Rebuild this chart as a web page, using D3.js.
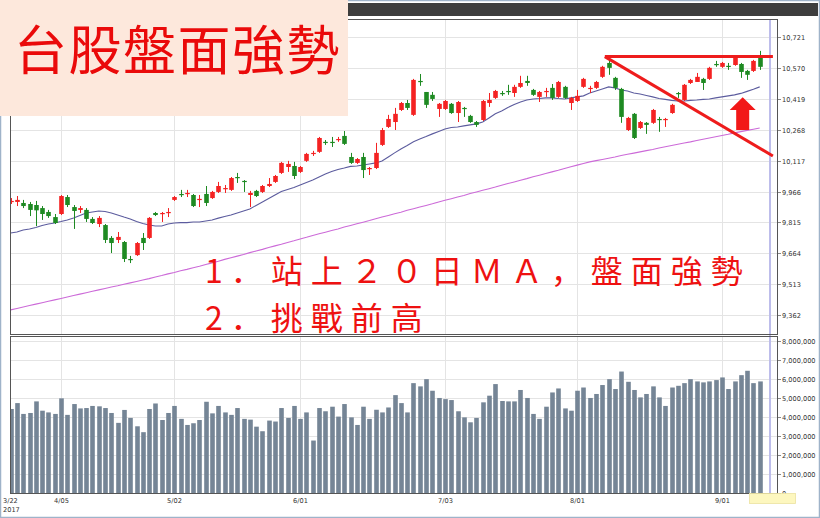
<!DOCTYPE html>
<html><head><meta charset="utf-8">
<script src="https://cdn.jsdelivr.net/npm/d3@7"></script>
<style>body{margin:0;background:#fff;}svg{display:block;}</style>
</head><body><svg id="c" width="820" height="518"></svg>
<script>
// ---------- data ----------
const tickLabels = ["3/22","4/05","5/02","6/01","7/03","8/01","9/01"];
const tickIndex  = [0, 8, 26, 46, 69, 90, 113];
const yearLabel = "2017";
const priceTicks = [9362,9513,9664,9815,9966,10117,10268,10419,10570,10721];
const volumeTicks = [0,1000000,2000000,3000000,4000000,5000000,6000000,7000000,8000000];

const open = [9915,9915,9910,9905,9900,9885,9866,9841,9856,9939,
9890,9876,9876,9832,9807,9802,9739,9729,9719,9636,
9655,9739,9739,9861,9856,9861,9925,9954,9954,9949,
9925,9954,9934,9964,9978,9974,10037,10018,9949,9969,
9964,9993,10013,10057,10086,10091,10062,10116,10150,10160,
10209,10209,10218,10238,10135,10106,10135,10076,10081,10194,
10282,10306,10365,10399,10341,10507,10453,10439,10370,10370,
10395,10350,10375,10336,10306,10316,10399,10424,10448,10458,
10448,10478,10507,10463,10429,10453,10473,10429,10478,10399,
10409,10478,10468,10473,10527,10595,10522,10468,10267,10346,
10277,10302,10302,10321,10316,10350,10448,10414,10497,10502,
10517,10517,10590,10576,10581,10585,10590,10556,10556,10620];
const high = [9934,9944,9925,9915,9920,9895,9876,9856,9949,9949,
9900,9895,9885,9841,9846,9807,9748,9768,9724,9651,
9719,9763,9841,9866,9866,9885,9944,9974,9974,9954,
9949,9993,9969,10013,9998,10037,10057,10022,9969,9974,
9998,10032,10047,10111,10116,10111,10091,10155,10165,10233,
10218,10233,10233,10262,10155,10130,10155,10086,10204,10277,
10341,10375,10404,10414,10517,10541,10453,10453,10399,10414,
10399,10409,10380,10341,10311,10414,10448,10463,10458,10488,
10488,10532,10532,10468,10458,10473,10492,10507,10483,10429,
10463,10522,10483,10507,10581,10610,10527,10473,10331,10350,
10311,10306,10370,10331,10326,10395,10453,10492,10517,10546,
10522,10576,10605,10600,10595,10630,10595,10561,10610,10654];
const low = [9905,9895,9885,9846,9797,9827,9837,9807,9851,9890,
9783,9861,9817,9807,9792,9714,9665,9714,9621,9616,
9651,9680,9734,9846,9817,9841,9920,9939,9939,9890,
9890,9895,9930,9959,9959,9969,10008,9964,9890,9939,
9959,9988,10008,10052,10062,10027,10057,10111,10140,10155,
10194,10184,10209,10194,10101,10101,10032,10047,10076,10189,
10277,10267,10360,10365,10336,10483,10375,10409,10331,10365,
10346,10306,10331,10302,10282,10311,10380,10419,10434,10439,
10429,10473,10483,10434,10404,10429,10414,10424,10419,10365,
10404,10473,10448,10468,10522,10537,10463,10302,10262,10223,
10272,10248,10297,10258,10282,10346,10424,10409,10492,10502,
10463,10512,10576,10571,10561,10581,10522,10512,10551,10561];
const close = [9920,9925,9895,9876,9874,9856,9846,9812,9944,9900,
9871,9885,9832,9812,9837,9729,9714,9744,9636,9631,
9714,9714,9837,9851,9861,9866,9939,9949,9959,9895,
9930,9910,9964,9993,9983,10032,10032,10013,9959,9944,
9993,10003,10042,10106,10101,10042,10086,10150,10155,10228,
10204,10204,10223,10199,10106,10125,10071,10081,10155,10267,
10321,10346,10399,10375,10512,10502,10390,10419,10395,10409,
10350,10404,10370,10306,10292,10409,10414,10458,10443,10453,
10478,10497,10497,10439,10453,10458,10424,10502,10424,10424,
10434,10517,10473,10502,10576,10571,10473,10331,10326,10228,
10306,10292,10365,10316,10321,10390,10443,10488,10512,10527,
10497,10571,10585,10595,10576,10625,10551,10537,10605,10576];
const volume = [4420000,4730000,4160000,4210000,4820000,4330000,4240000,4160000,4980000,4110000,
4680000,4450000,4470000,4580000,4560000,4470000,4210000,3690000,4370000,3950000,
3510000,3200000,4420000,4710000,3840000,4210000,4580000,3900000,3580000,3670000,
3840000,4800000,4190000,4580000,4240000,4110000,4470000,3900000,3860000,3490000,
3250000,3810000,3760000,4470000,3950000,4580000,3900000,4240000,2760000,4470000,
4300000,4540000,4020000,4680000,3980000,3580000,4540000,3900000,4380000,4240000,
4500000,5150000,4730000,4240000,5780000,5610000,5990000,5380000,5000000,4940000,
4890000,4300000,3980000,3720000,3950000,4770000,5120000,5730000,4840000,4820000,
4820000,5420000,5000000,4160000,3900000,4540000,5290000,5500000,4450000,4330000,
5380000,5550000,5000000,5210000,5680000,5990000,5470000,6390000,5850000,5420000,
5030000,5210000,5610000,5030000,4580000,5550000,5640000,5780000,5990000,5870000,
5820000,5870000,5940000,6080000,5470000,5870000,6200000,6430000,5780000,5870000];
const ma20 = [9763,9768,9778,9783,9790,9800,9807,9812,9819,9827,
9836,9849,9861,9866,9871,9868,9861,9851,9841,9832,
9819,9810,9802,9797,9797,9807,9812,9814,9814,9817,
9817,9822,9827,9836,9844,9851,9861,9871,9881,9898,
9915,9932,9949,9966,9976,9986,9998,10010,10022,10037,
10052,10064,10074,10081,10089,10091,10096,10101,10106,10115,
10135,10155,10174,10191,10209,10223,10235,10248,10260,10272,
10279,10282,10287,10292,10297,10306,10326,10346,10360,10377,
10392,10404,10414,10419,10421,10424,10424,10421,10419,10424,
10429,10434,10448,10458,10468,10478,10473,10463,10458,10448,
10443,10436,10429,10421,10417,10412,10409,10409,10412,10414,
10417,10419,10424,10429,10434,10439,10446,10456,10466,10478];
const ma60 = [9387,9394,9401,9408,9415,9422,9429,9436,9443,9450,
9457,9464,9471,9478,9485,9492,9499,9505,9512,9519,
9526,9533,9540,9548,9555,9563,9570,9578,9585,9593,
9600,9609,9617,9625,9634,9642,9650,9658,9667,9675,
9683,9692,9700,9708,9717,9725,9734,9742,9751,9759,
9767,9775,9783,9792,9800,9808,9816,9824,9833,9841,
9849,9857,9865,9874,9882,9890,9898,9906,9915,9923,
9931,9939,9947,9956,9964,9972,9980,9988,9997,10005,
10013,10021,10029,10038,10046,10054,10062,10070,10079,10087,
10095,10103,10111,10117,10123,10129,10135,10142,10148,10154,
10160,10166,10172,10179,10185,10191,10197,10203,10209,10216,
10222,10228,10234,10240,10246,10253,10259,10265,10271,10277];

const titleText = "台股盤面強勢";
const noteLines = ["1．站上２０日ＭＡ，盤面強勢", "2．挑戰前高"];
// annotation anchors (bar index, price)
const resistance = {from: 94.4, to: 121.1, price: 10626};
const trendLine = {from: [94.4, 10626], to: [121.1, 10140]};
const upArrow = {at: 116.3, tip: 10427, head: 10365, tail: 10267};

// ---------- layout ----------
const svg = d3.select("#c");
const L = 10, R = 777, PT = 19, PB = 334, VT = 336, VB = 493;
const x = d3.scaleLinear().domain([-0.1, 121.75]).range([L, R]);
const y = d3.scaleLinear().domain([9269, 10810]).range([PB, PT]);
const yv = d3.scaleLinear().domain([0, 8260000]).range([VB, VT]);
const font = "DejaVu Sans, Verdana, sans-serif";
const UP = "#f42222", DOWN = "#1e8a22";

svg.append("rect").attr("x",0.5).attr("y",0.5).attr("width",819).attr("height",517)
  .attr("fill","#fff").attr("stroke","#9fb3c9").attr("stroke-width",1.5);
svg.append("rect").attr("x",3).attr("y",3).attr("width",815).attr("height",13).attr("fill","#3d3d3d");

const defs = svg.append("defs");
defs.append("clipPath").attr("id","pc").append("rect").attr("x",L).attr("y",PT).attr("width",R-L).attr("height",PB-PT);
defs.append("clipPath").attr("id","vc").append("rect").attr("x",L).attr("y",VT).attr("width",R-L).attr("height",VB-VT);

[[PT,PB],[VT,VB]].forEach(([t,b]) => {
  svg.append("rect").attr("x",L).attr("y",t).attr("width",R-L).attr("height",b-t).attr("fill","#fff");
});
const grid = svg.append("g").attr("stroke","#e4e4e4").attr("stroke-width",1);
grid.selectAll(".hp").data(priceTicks).join("line")
  .attr("x1",L).attr("x2",R).attr("y1",d=>Math.round(y(d))+0.5).attr("y2",d=>Math.round(y(d))+0.5);
grid.selectAll(".hv").data(volumeTicks.slice(1)).join("line")
  .attr("x1",L).attr("x2",R).attr("y1",d=>Math.round(yv(d))+0.5).attr("y2",d=>Math.round(yv(d))+0.5);
grid.selectAll(".vp").data(tickIndex.slice(1)).join("line")
  .attr("x1",d=>Math.round(x(d))+0.5).attr("x2",d=>Math.round(x(d))+0.5).attr("y1",PT).attr("y2",PB);
grid.selectAll(".vv").data(tickIndex.slice(1)).join("line")
  .attr("x1",d=>Math.round(x(d))+0.5).attr("x2",d=>Math.round(x(d))+0.5).attr("y1",VT).attr("y2",VB);

svg.append("line").attr("x1",770).attr("x2",770).attr("y1",PT).attr("y2",VB)
  .attr("stroke","#bdbdeb").attr("stroke-width",2);

const idx = d3.range(close.length);
const pg = svg.append("g").attr("clip-path","url(#pc)");
pg.append("path").datum(idx).attr("fill","none").attr("stroke","#cc6ad8").attr("stroke-width",1.1)
  .attr("d", d3.line().x(i=>x(i)).y(i=>y(ma60[i])));
pg.append("path").datum(idx).attr("fill","none").attr("stroke","#5c5c9e").attr("stroke-width",1.1)
  .attr("d", d3.line().x(i=>x(i)).y(i=>y(ma20[i])));

const bw = 4.6;
const cg = pg.append("g");
cg.selectAll("line").data(idx).join("line")
  .attr("x1",i=>Math.round(x(i))+0.5).attr("x2",i=>Math.round(x(i))+0.5)
  .attr("y1",i=>y(high[i])).attr("y2",i=>y(low[i]))
  .attr("stroke",i=>close[i]>=open[i]?UP:DOWN).attr("stroke-width",1);
cg.selectAll("rect").data(idx).join("rect")
  .attr("x",i=>Math.round(x(i))+0.5-bw/2).attr("width",bw)
  .attr("y",i=>y(Math.max(open[i],close[i])))
  .attr("height",i=>Math.max(1.2, Math.abs(y(open[i])-y(close[i]))))
  .attr("fill",i=>close[i]>=open[i]?UP:DOWN);

svg.append("g").attr("clip-path","url(#vc)").selectAll("rect").data(idx).join("rect")
  .attr("x",i=>Math.round(x(i))+0.5-bw/2).attr("width",bw)
  .attr("y",i=>yv(volume[i])).attr("height",i=>VB-yv(volume[i]))
  .attr("fill","#758596");

[[PT,PB],[VT,VB]].forEach(([t,b]) => {
  svg.append("rect").attr("x",L+0.5).attr("y",t+0.5).attr("width",R-L).attr("height",b-t)
    .attr("fill","none").attr("stroke","#555").attr("stroke-width",1);
});

const ax = svg.append("g").attr("font-family",font).attr("font-size",6.6).attr("fill","#333");
const fmt = d3.format(",");
priceTicks.forEach(t => {
  const yy = Math.round(y(t))+0.5;
  ax.append("line").attr("x1",R+1).attr("x2",R+4).attr("y1",yy).attr("y2",yy).attr("stroke","#888");
  ax.append("text").attr("x",R+5).attr("y",yy+2.3).text(fmt(t));
});
volumeTicks.forEach(t => {
  const yy = Math.round(yv(t))+0.5;
  ax.append("line").attr("x1",R+1).attr("x2",R+4).attr("y1",yy).attr("y2",yy).attr("stroke","#888");
  ax.append("text").attr("x",R+5).attr("y",yy+2.3).text(fmt(t));
});
tickIndex.forEach((ti,k) => {
  const xx = Math.round(x(ti))+0.5;
  ax.append("text").attr("x", k===0 ? 3 : xx).attr("y",503)
    .attr("text-anchor", k===0 ? "start" : "middle").text(tickLabels[k]);
});
ax.append("text").attr("x",3).attr("y",512).text(yearLabel);

svg.append("rect").attr("x",749.5).attr("y",493.5).attr("width",46).attr("height",10)
  .attr("fill","#fdf7bf").attr("stroke","#ebe2a0").attr("stroke-width",0.8);

const an = svg.append("g");
an.append("line").attr("x1",x(resistance.from)).attr("x2",x(resistance.to))
  .attr("y1",y(resistance.price)).attr("y2",y(resistance.price))
  .attr("stroke","#ee1c1c").attr("stroke-width",3);
an.append("line").attr("x1",x(trendLine.from[0])).attr("y1",y(trendLine.from[1]))
  .attr("x2",x(trendLine.to[0])).attr("y2",y(trendLine.to[1]))
  .attr("stroke","#ee1c1c").attr("stroke-width",3);
const ax0 = x(upArrow.at);
const arrowPts = [[ax0,y(upArrow.tip)],[ax0+13,y(upArrow.head)],[ax0+6.5,y(upArrow.head)],
  [ax0+6.5,y(upArrow.tail)],[ax0-6.5,y(upArrow.tail)],[ax0-6.5,y(upArrow.head)],[ax0-13,y(upArrow.head)]];
an.append("polygon").attr("points",arrowPts.map(p=>p.join(",")).join(" ")).attr("fill","#f21818");

// two-line note
const nt = svg.append("g").attr("font-family","'Noto Sans CJK SC', 'Noto Sans CJK TC', sans-serif")
  .attr("font-size",32).attr("fill","#ee1111");
noteLines.forEach((s,k) => {
  nt.append("text").attr("x",205).attr("y",k===0?283:330).attr("letter-spacing",8).text(s);
});

svg.append("rect").attr("x",0).attr("y",0).attr("width",348).attr("height",116).attr("fill","#fde8dc");
svg.append("text").attr("x",14).attr("y",70)
  .attr("font-family","'Noto Sans CJK TC', 'Noto Sans CJK SC', sans-serif")
  .attr("font-size",53).attr("letter-spacing",1.5).attr("fill","#ea0a0a").text(titleText);
</script></body></html>
